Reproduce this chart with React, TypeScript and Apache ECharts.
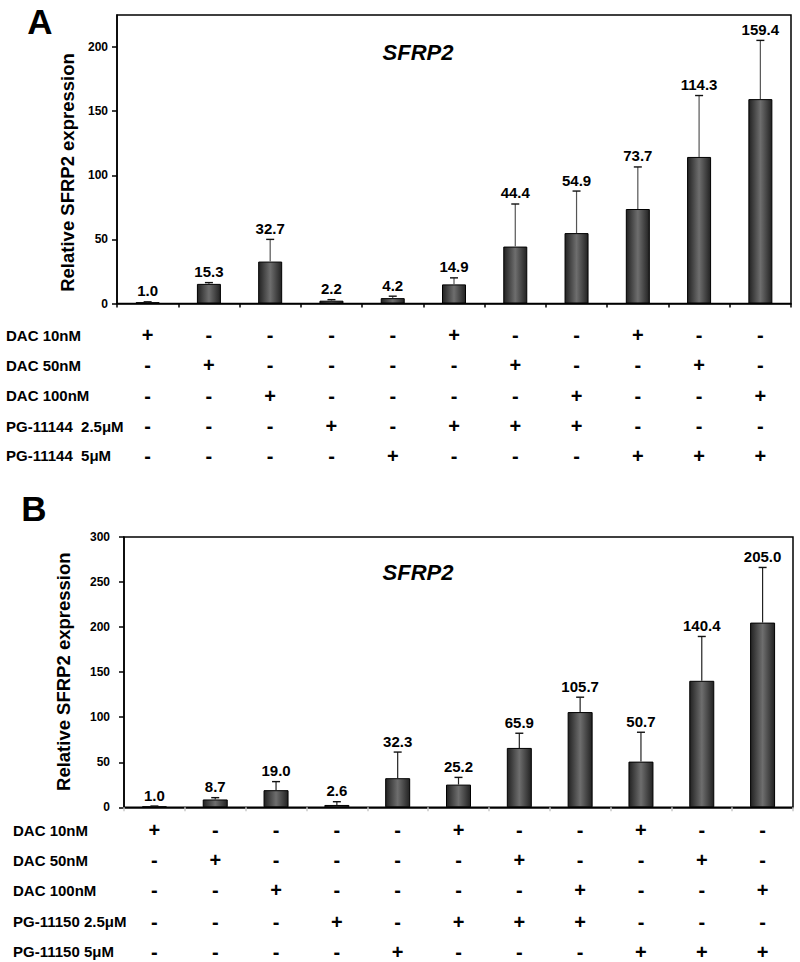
import React, { useEffect, useRef } from 'react';
import * as echarts from 'echarts';

// ---- data ----
const categories = ['1', '2', '3', '4', '5', '6', '7', '8', '9', '10', '11'];
const rowLabelsA = ['DAC 10nM', 'DAC 50nM', 'DAC 100nM', 'PG-11144  2.5μM', 'PG-11144  5μM'];
const rowLabelsB = ['DAC 10nM', 'DAC 50nM', 'DAC 100nM', 'PG-11150 2.5μM', 'PG-11150 5μM'];
const dac10 = ['+', '-', '-', '-', '-', '+', '-', '-', '+', '-', '-'];
const dac50 = ['-', '+', '-', '-', '-', '-', '+', '-', '-', '+', '-'];
const dac100 = ['-', '-', '+', '-', '-', '-', '-', '+', '-', '-', '+'];
const pg25 = ['-', '-', '-', '+', '-', '+', '+', '+', '-', '-', '-'];
const pg5 = ['-', '-', '-', '-', '+', '-', '-', '-', '+', '+', '+'];
const valuesA = [1.0, 15.3, 32.7, 2.2, 4.2, 14.9, 44.4, 54.9, 73.7, 114.3, 159.4];
const errorsA = [0.3, 1.0, 17.3, 0.8, 1.5, 5.1, 33.2, 32.8, 32.8, 47.9, 45.8];
const valuesB = [1.0, 8.7, 19.0, 2.6, 32.3, 25.2, 65.9, 105.7, 50.7, 140.4, 205.0];
const errorsB = [0.4, 2.0, 9.5, 3.6, 29.0, 8.0, 16.3, 16.5, 32.6, 49.2, 61.2];
const yMaxA = 225;
const yMaxB = 300;
const yInterval = 50;
const titleText = 'SFRP2';
const yName = 'Relative SFRP2 expression';

const FONT = "'Liberation Sans', Arial, Helvetica, sans-serif";
const rows = [dac10, dac50, dac100, pg25, pg5];

function txt(x: number, y: number, text: string, size: number, extra: any = {}) {
  return {
    type: 'text',
    x,
    y,
    rotation: extra.rotation || 0,
    silent: true,
    style: {
      text,
      fill: '#000',
      fontSize: size,
      fontWeight: extra.fontWeight || 'bold',
      fontStyle: extra.fontStyle || 'normal',
      fontFamily: FONT,
      align: extra.align || 'center',
      verticalAlign: 'middle',
      textAlign: extra.align || 'center',
      textVerticalAlign: 'middle',
    },
  };
}

function barGradient() {
  return new echarts.graphic.LinearGradient(0, 0, 1, 0, [
    { offset: 0, color: '#222222' },
    { offset: 0.5, color: '#6e6e6e' },
    { offset: 1, color: '#222222' },
  ]);
}

function errorSeries(idx: number, values: number[], errors: number[], stroke: string) {
  return {
    type: 'custom',
    xAxisIndex: idx,
    yAxisIndex: idx,
    z: 10,
    clip: false,
    silent: true,
    encode: { x: 0, y: 1 },
    data: values.map((v, i) => [i, v, errors[i]]),
    renderItem: (params: any, api: any) => {
      const i = api.value(0);
      const v = api.value(1);
      const e = api.value(2);
      const base = api.coord([i, v]);
      const top = api.coord([i, v + e]);
      const label = (v as number).toFixed(1);
      return {
        type: 'group',
        children: [
          {
            type: 'line',
            shape: { x1: base[0], y1: base[1], x2: top[0], y2: top[1] },
            style: { stroke, lineWidth: 1.2 },
          },
          {
            type: 'line',
            shape: { x1: top[0] - 4, y1: top[1], x2: top[0] + 4, y2: top[1] },
            style: { stroke: '#111', lineWidth: 1.4 },
          },
          txt(top[0], top[1] - 11, label, 15),
        ],
      };
    },
  };
}

function tableSeries(idx: number, offsets: number[]) {
  return {
    type: 'custom',
    xAxisIndex: idx,
    yAxisIndex: idx,
    z: 10,
    clip: false,
    silent: true,
    encode: { x: 0, y: 1 },
    data: categories.map((c, i) => [i, 0]),
    renderItem: (params: any, api: any) => {
      const i = api.value(0);
      const p = api.coord([i, 0]);
      return {
        type: 'group',
        children: rows.map((r, k) => txt(p[0], p[1] + offsets[k], r[i], 20)),
      };
    },
  };
}

function xAxisCfg(idx: number, tickColor: string) {
  return {
    gridIndex: idx,
    type: 'category',
    data: categories,
    boundaryGap: true,
    axisLine: { show: true, lineStyle: { color: '#000', width: 1.5 } },
    axisTick: { show: true, length: 4, lineStyle: { color: tickColor, width: 1.5 } },
    axisLabel: { show: false },
    splitLine: { show: false },
  };
}

function yAxisCfg(idx: number, max: number, margin: number) {
  return {
    gridIndex: idx,
    type: 'value',
    min: 0,
    max,
    interval: yInterval,
    axisLine: { show: true, lineStyle: { color: '#000', width: 1.5 } },
    axisTick: { show: true, length: 5, lineStyle: { color: '#000', width: 1.5 } },
    axisLabel: {
      show: true,
      color: '#000',
      fontSize: 12,
      fontWeight: 'bold',
      fontFamily: FONT,
      margin,
      showMaxLabel: max % yInterval === 0,
    },
    splitLine: { show: false },
  };
}

export default function App() {
  const ref = useRef<HTMLDivElement>(null);
  useEffect(() => {
    if (!ref.current) return;
    const chart = echarts.init(ref.current, undefined, { renderer: 'svg' });
    const rowYA = [335, 365, 395.7, 426, 455.7];
    const rowYB = [830, 860, 890, 921.7, 951.7];
    const zeroA = 303.5;
    const zeroB = 807.3;
    const option: any = {
      animation: false,
      textStyle: { fontFamily: FONT },
      grid: [
        { left: 117, top: 15, width: 674, height: zeroA - 15, show: true, borderColor: '#000', borderWidth: 1.5, backgroundColor: 'transparent' },
        { left: 124, top: 537, width: 669, height: zeroB - 537, show: true, borderColor: '#000', borderWidth: 1.5, backgroundColor: 'transparent' },
      ],
      xAxis: [xAxisCfg(0, '#000'), xAxisCfg(1, '#c8c8c8')],
      yAxis: [yAxisCfg(0, yMaxA, 9), yAxisCfg(1, yMaxB, 14)],
      series: [
        {
          type: 'bar',
          xAxisIndex: 0,
          yAxisIndex: 0,
          data: valuesA,
          barWidth: 24,
          silent: true,
          itemStyle: { color: barGradient(), borderColor: '#000', borderWidth: 1 },
        },
        {
          type: 'bar',
          xAxisIndex: 1,
          yAxisIndex: 1,
          data: valuesB,
          barWidth: 25,
          silent: true,
          itemStyle: { color: barGradient(), borderColor: '#000', borderWidth: 1 },
        },
        errorSeries(0, valuesA, errorsA, '#555'),
        errorSeries(1, valuesB, errorsB, '#222'),
        tableSeries(0, rowYA.map((y) => y - zeroA)),
        tableSeries(1, rowYB.map((y) => y - zeroB)),
      ],
      graphic: [
        txt(40, 21, 'A', 35),
        txt(34, 508, 'B', 35),
        txt(418, 52, titleText, 22, { fontStyle: 'italic' }),
        txt(418, 572, titleText, 22, { fontStyle: 'italic' }),
        txt(67, 172.5, yName, 18.5, { rotation: Math.PI / 2 }),
        txt(63, 671.7, yName, 18.5, { rotation: Math.PI / 2 }),
        ...rowLabelsA.map((t, k) => txt(6, rowYA[k], t, 15, { align: 'left' })),
        ...rowLabelsB.map((t, k) => txt(13, rowYB[k], t, 15, { align: 'left' })),
      ],
    };
    chart.setOption(option);
    return () => chart.dispose();
  }, []);
  return (
    <div
      ref={ref}
      style={{ position: 'fixed', left: 0, top: 0, width: 800, height: 962, background: '#fff' }}
    />
  );
}
